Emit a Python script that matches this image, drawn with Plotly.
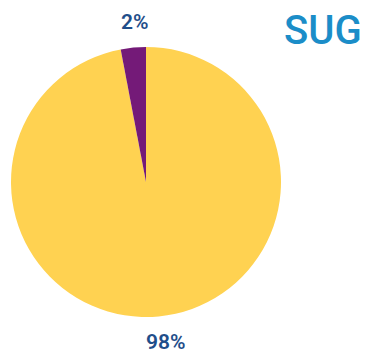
import plotly.graph_objects as go

categories = ["SUG", "Other"]
shares = [97, 3]
label_text = ["98%", "2%"]
colors = ["#FFD251", "#741A78"]
title_text = "SUG"

W, H = 361, 349  # page body has an 8px margin

fig = go.Figure(go.Pie(
    labels=categories,
    values=shares,
    sort=False,
    direction="clockwise",
    rotation=0,
    marker=dict(colors=colors, line=dict(width=0)),
    textinfo="none",
    hoverinfo="label+percent",
    showlegend=False,
    domain=dict(x=[3/W, 273/W], y=[(H-309)/H, (H-39)/H]),
))

lab_font = dict(family="Roboto", size=21, color="#1F4E8A", weight=600)
fig.add_annotation(x=127/W, y=1-13.5/H, xref="paper", yref="paper",
                   xanchor="center", yanchor="middle", borderpad=0,
                   text=label_text[1], showarrow=False, font=lab_font)
fig.add_annotation(x=158/W, y=1-334/H, xref="paper", yref="paper",
                   xanchor="center", yanchor="middle", borderpad=0,
                   text=label_text[0], showarrow=False, font=lab_font)
fig.add_annotation(x=315/W, y=1-23/H, xref="paper", yref="paper",
                   xanchor="center", yanchor="middle", borderpad=0,
                   text=title_text, showarrow=False,
                   font=dict(family="Roboto", size=40, color="#1B8DC8", weight=500))

fig.update_layout(
    width=W, height=H,
    margin=dict(l=0, r=0, t=0, b=0),
    paper_bgcolor="white", plot_bgcolor="white",
)
fig.write_html("out.html")
